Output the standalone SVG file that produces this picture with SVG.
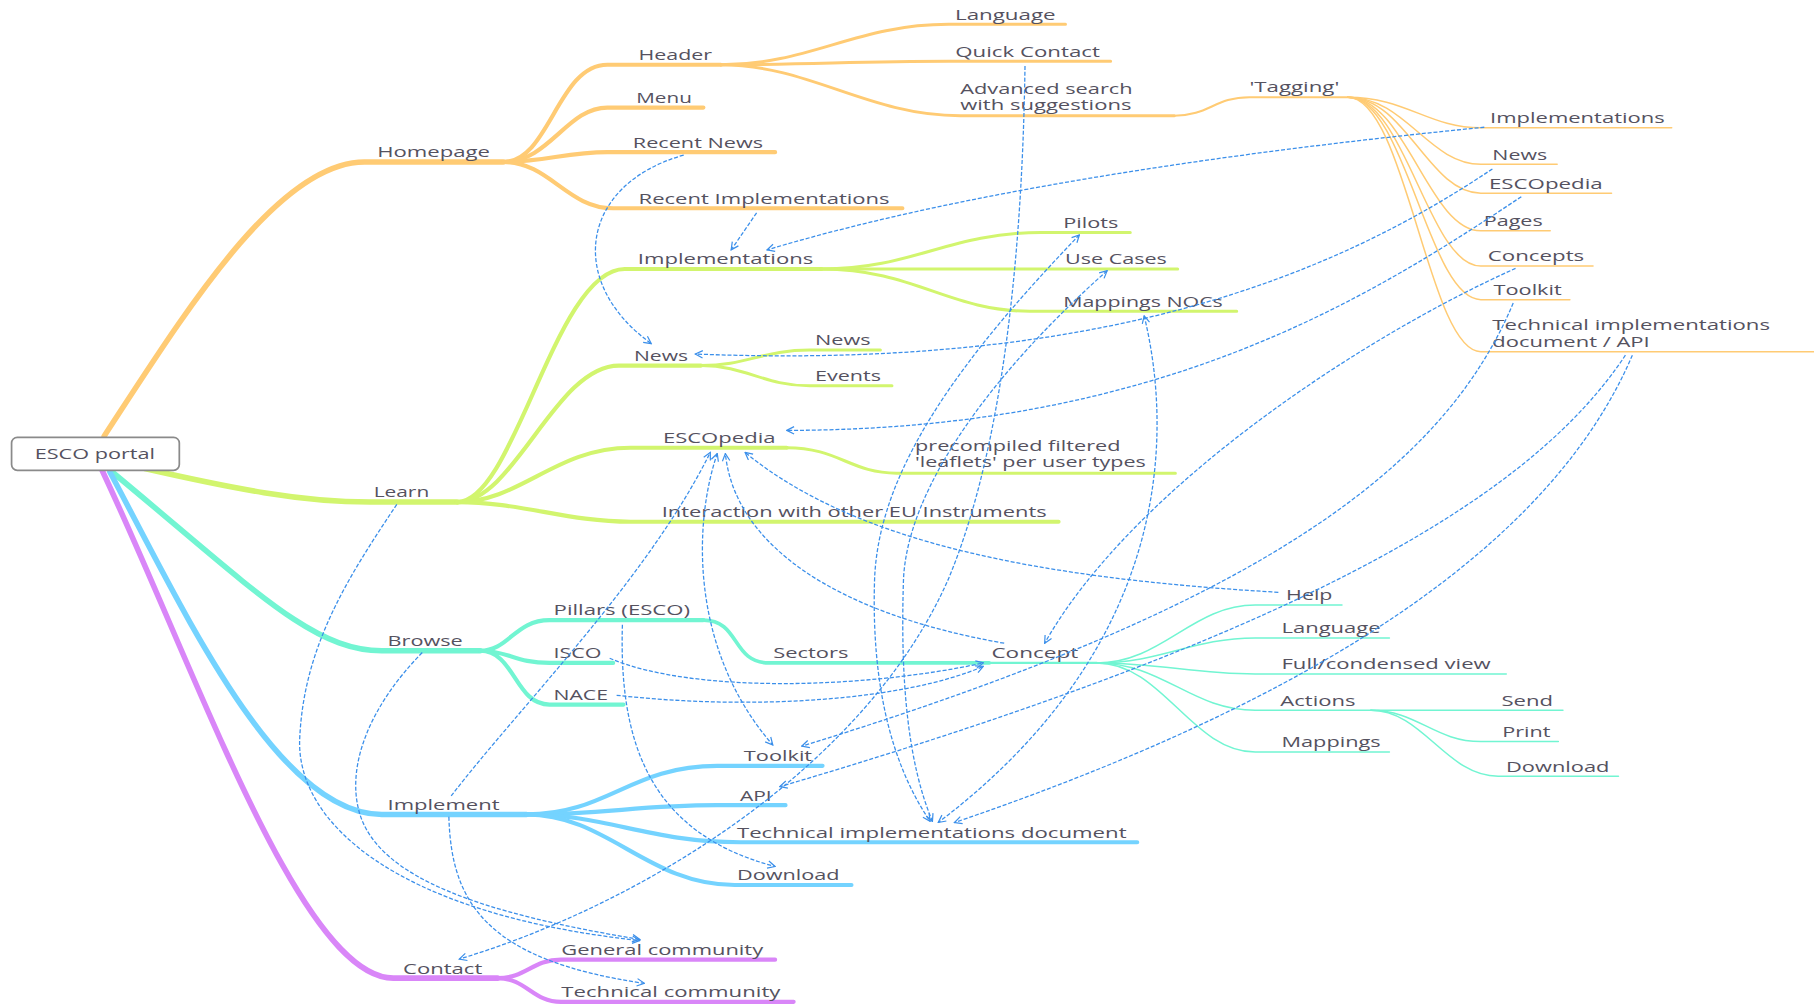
<svg xmlns="http://www.w3.org/2000/svg" width="1814" height="1004" viewBox="0 0 1814 1004">
<defs>
<style>
.t{font-family:"Open Sans","DejaVu Sans",sans-serif;font-size:13px;fill:#55525f}
.b{fill:none;stroke-linecap:round}
.or{stroke:#FFCB74}.yg{stroke:#D2F56E}.tl{stroke:#72F5D2}.bl{stroke:#74D3FF}.pu{stroke:#D986F8}
.w1{stroke-width:4.8}.w2{stroke-width:3.6}.w3{stroke-width:2.6}.w4{stroke-width:1.3}
.dc{fill:none;stroke:#3B8FEA;stroke-width:1.1;stroke-dasharray:3.5 1.6;marker-end:url(#ah)}
.bi{marker-start:url(#ah)}
</style>
<marker id="ah" viewBox="0 0 10 10" refX="9" refY="5" markerWidth="8" markerHeight="8" markerUnits="userSpaceOnUse" orient="auto-start-reverse">
<path d="M1,1 L9,5 L1,9" fill="none" stroke="#3B8FEA" stroke-width="1.3" stroke-dasharray="none"/>
</marker>
</defs>
<rect width="1814" height="1004" fill="#fff"/>
<g transform="scale(1.156888)">
<g id="homepage">
<path class="b or w1" d="M90,377 C 160,270 240,140 315,140 L 435,140"/>
<text class="t" x="326" y="136" textLength="97.5" lengthAdjust="spacingAndGlyphs">Homepage</text>
</g>
<g id="header">
<path class="b or w2" d="M435,140 C 475,140 482,56 525,56 L 623,56"/>
<text class="t" x="552" y="52" textLength="63.5" lengthAdjust="spacingAndGlyphs">Header</text>
</g>
<g id="menu">
<path class="b or w2" d="M435,140 C 475,140 490,93 525,93 L 608,93"/>
<text class="t" x="550" y="89" textLength="48" lengthAdjust="spacingAndGlyphs">Menu</text>
</g>
<g id="recent-news">
<path class="b or w2" d="M435,140 C 470,140 490,131.5 525,131.5 L 670,131.5"/>
<text class="t" x="547" y="127.5" textLength="112.6" lengthAdjust="spacingAndGlyphs">Recent News</text>
</g>
<g id="recent-implementations">
<path class="b or w2" d="M435,140 C 475,140 490,180 530,180 L 780,180"/>
<text class="t" x="552" y="176" textLength="217" lengthAdjust="spacingAndGlyphs">Recent Implementations</text>
</g>
<g id="header-language">
<path class="b or w3" d="M623,56 C 700,56 740,21 820,21 L 921,21"/>
<text class="t" x="825.5" y="17" textLength="87" lengthAdjust="spacingAndGlyphs">Language</text>
</g>
<g id="quick-contact">
<path class="b or w3" d="M623,56 C 700,56 740,53 820,53 L 960,53"/>
<text class="t" x="825.7" y="49" textLength="125" lengthAdjust="spacingAndGlyphs">Quick Contact</text>
</g>
<g id="advanced-search">
<path class="b or w3" d="M623,56 C 700,56 750,100 830,100 L 1015,100"/>
<text class="t" x="830" y="81" textLength="149" lengthAdjust="spacingAndGlyphs">Advanced search</text>
<text class="t" x="830" y="95.5" textLength="148" lengthAdjust="spacingAndGlyphs">with suggestions</text>
</g>
<g id="tagging">
<path class="b or" stroke-width="1.8" d="M1015,100 C 1045,100 1050,84 1080,84 L 1165,84"/>
<text class="t" x="1080" y="79.5" textLength="77.7" lengthAdjust="spacingAndGlyphs">'Tagging'</text>
</g>
<g id="tag-implementations">
<path class="b or w4" d="M1165,84 C 1215,84 1235,110.5 1280,110.5 L 1445,110.5"/>
<text class="t" x="1288" y="106.5" textLength="151" lengthAdjust="spacingAndGlyphs">Implementations</text>
</g>
<g id="tag-news">
<path class="b or w4" d="M1165,84 C 1215,84 1235,142 1280,142 L 1346,142"/>
<text class="t" x="1290" y="138" textLength="47.3" lengthAdjust="spacingAndGlyphs">News</text>
</g>
<g id="tag-escopedia">
<path class="b or w4" d="M1165,84 C 1215,84 1235,167 1280,167 L 1393,167"/>
<text class="t" x="1287" y="163" textLength="98.4" lengthAdjust="spacingAndGlyphs">ESCOpedia</text>
</g>
<g id="tag-pages">
<path class="b or w4" d="M1165,84 C 1215,84 1235,199.5 1280,199.5 L 1340,199.5"/>
<text class="t" x="1282.5" y="195.5" textLength="51" lengthAdjust="spacingAndGlyphs">Pages</text>
</g>
<g id="tag-concepts">
<path class="b or w4" d="M1165,84 C 1215,84 1235,230 1280,230 L 1377,230"/>
<text class="t" x="1286" y="226" textLength="83.4" lengthAdjust="spacingAndGlyphs">Concepts</text>
</g>
<g id="tag-toolkit">
<path class="b or w4" d="M1165,84 C 1215,84 1235,259 1280,259 L 1357,259"/>
<text class="t" x="1291" y="255" textLength="59" lengthAdjust="spacingAndGlyphs">Toolkit</text>
</g>
<g id="tag-tech-api">
<path class="b or w4" d="M1165,84 C 1215,84 1235,304 1280,304 L 1568,304"/>
<text class="t" x="1290" y="285.5" textLength="240" lengthAdjust="spacingAndGlyphs">Technical implementations</text>
<text class="t" x="1290" y="300" textLength="136" lengthAdjust="spacingAndGlyphs">document / API</text>
</g>
<g id="learn">
<path class="b yg w1" d="M125,405 C 200,422 260,434 320,434 L 395,434"/>
<text class="t" x="323" y="430" textLength="48" lengthAdjust="spacingAndGlyphs">Learn</text>
</g>
<g id="learn-implementations">
<path class="b yg w2" d="M395,434 C 445,434 480,232.5 540,232.5 L 710,232.5"/>
<text class="t" x="551.3" y="228.5" textLength="151.7" lengthAdjust="spacingAndGlyphs">Implementations</text>
</g>
<g id="learn-news">
<path class="b yg w2" d="M395,434 C 445,434 480,316 535,316 L 606,316"/>
<text class="t" x="548" y="312" textLength="46.7" lengthAdjust="spacingAndGlyphs">News</text>
</g>
<g id="learn-escopedia">
<path class="b yg w2" d="M395,434 C 450,434 480,387 545,387 L 680,387"/>
<text class="t" x="573" y="383" textLength="97.3" lengthAdjust="spacingAndGlyphs">ESCOpedia</text>
</g>
<g id="interaction">
<path class="b yg w2" d="M395,434 C 450,434 490,451 545,451 L 915,451"/>
<text class="t" x="572" y="447" textLength="332.7" lengthAdjust="spacingAndGlyphs">Interaction with other EU Instruments</text>
</g>
<g id="pilots">
<path class="b yg w3" d="M710,232.5 C 790,232.5 820,201 900,201 L 977,201"/>
<text class="t" x="919" y="197" textLength="47.6" lengthAdjust="spacingAndGlyphs">Pilots</text>
</g>
<g id="use-cases">
<path class="b yg w3" d="M710,232.5 L 1018,232.5"/>
<text class="t" x="920.6" y="228.5" textLength="88" lengthAdjust="spacingAndGlyphs">Use Cases</text>
</g>
<g id="mappings-nocs">
<path class="b yg w3" d="M710,232.5 C 790,232.5 820,269 890,269 L 1069,269"/>
<text class="t" x="919" y="265" textLength="138" lengthAdjust="spacingAndGlyphs">Mappings NOCs</text>
</g>
<g id="news-news">
<path class="b yg w3" d="M606,316 C 645,316 660,302.5 700,302.5 L 761,302.5"/>
<text class="t" x="704.5" y="298.5" textLength="48" lengthAdjust="spacingAndGlyphs">News</text>
</g>
<g id="events">
<path class="b yg w3" d="M606,316 C 645,316 660,333.5 700,333.5 L 771,333.5"/>
<text class="t" x="704.5" y="329.5" textLength="57" lengthAdjust="spacingAndGlyphs">Events</text>
</g>
<g id="leaflets">
<path class="b yg w3" d="M680,387 C 725,387 735,409 775,409 L 1016,409"/>
<text class="t" x="791" y="389.5" textLength="177.5" lengthAdjust="spacingAndGlyphs">precompiled filtered</text>
<text class="t" x="791" y="404" textLength="199.5" lengthAdjust="spacingAndGlyphs">'leaflets' per user types</text>
</g>
<g id="browse">
<path class="b tl w1" d="M97,408 C 220,510 270,562.5 330,562.5 L 415,562.5"/>
<text class="t" x="335" y="558.5" textLength="65" lengthAdjust="spacingAndGlyphs">Browse</text>
</g>
<g id="pillars">
<path class="b tl w2" d="M415,562.5 C 440,562.5 445,536 475,536 L 608,536"/>
<text class="t" x="478.5" y="532" textLength="118" lengthAdjust="spacingAndGlyphs">Pillars (ESCO)</text>
</g>
<g id="isco">
<path class="b tl w2" d="M415,562.5 C 440,562.5 445,573 475,573 L 530,573"/>
<text class="t" x="478.5" y="569" textLength="41.5" lengthAdjust="spacingAndGlyphs">ISCO</text>
</g>
<g id="nace">
<path class="b tl w2" d="M415,562.5 C 445,562.5 445,609 475,609 L 539,609"/>
<text class="t" x="478.5" y="605" textLength="47" lengthAdjust="spacingAndGlyphs">NACE</text>
</g>
<g id="sectors">
<path class="b tl" stroke-width="3.2" d="M608,536 C 640,536 632,573 665,573 L 855,573"/>
<text class="t" x="668.4" y="569" textLength="65" lengthAdjust="spacingAndGlyphs">Sectors</text>
</g>
<g id="concept">
<path class="b tl" stroke-width="2" d="M855,573 L 948,573"/>
<text class="t" x="857" y="569" textLength="75" lengthAdjust="spacingAndGlyphs">Concept</text>
</g>
<g id="help">
<path class="b tl w4" d="M948,573 C 1005,573 1030,523 1085,523 L 1160,523"/>
<text class="t" x="1111.7" y="519" textLength="40" lengthAdjust="spacingAndGlyphs">Help</text>
</g>
<g id="concept-language">
<path class="b tl w4" d="M948,573 C 1005,573 1030,551.5 1085,551.5 L 1201,551.5"/>
<text class="t" x="1107.7" y="547.5" textLength="85.7" lengthAdjust="spacingAndGlyphs">Language</text>
</g>
<g id="full-view">
<path class="b tl w4" d="M948,573 C 1005,573 1030,582.5 1085,582.5 L 1302,582.5"/>
<text class="t" x="1107.7" y="578.5" textLength="180.8" lengthAdjust="spacingAndGlyphs">Full/condensed view</text>
</g>
<g id="actions">
<path class="b tl w4" d="M948,573 C 1005,573 1030,614 1085,614 L 1185,614"/>
<text class="t" x="1106.7" y="610" textLength="65" lengthAdjust="spacingAndGlyphs">Actions</text>
</g>
<g id="send">
<path class="b tl w4" d="M1185,614 L 1351,614"/>
<text class="t" x="1297.8" y="610" textLength="44.6" lengthAdjust="spacingAndGlyphs">Send</text>
</g>
<g id="print">
<path class="b tl w4" d="M1185,614 C 1225,614 1240,641 1280,641 L 1347,641"/>
<text class="t" x="1298.5" y="637" textLength="41.7" lengthAdjust="spacingAndGlyphs">Print</text>
</g>
<g id="concept-download">
<path class="b tl w4" d="M1185,614 C 1230,614 1250,671 1295,671 L 1399,671"/>
<text class="t" x="1301.8" y="667" textLength="89.4" lengthAdjust="spacingAndGlyphs">Download</text>
</g>
<g id="concept-mappings">
<path class="b tl w4" d="M948,573 C 1005,573 1030,650 1085,650 L 1201,650"/>
<text class="t" x="1107.7" y="646" textLength="85.7" lengthAdjust="spacingAndGlyphs">Mappings</text>
</g>
<g id="implement">
<path class="b bl w1" d="M95,408 C 160,530 240,704 330,704 L 455,704"/>
<text class="t" x="335" y="700" textLength="96.8" lengthAdjust="spacingAndGlyphs">Implement</text>
</g>
<g id="impl-toolkit">
<path class="b bl w2" d="M455,704 C 525,704 545,662 620,662 L 711,662"/>
<text class="t" x="643" y="658" textLength="59" lengthAdjust="spacingAndGlyphs">Toolkit</text>
</g>
<g id="impl-api">
<path class="b bl w2" d="M455,704 C 525,704 550,696 620,696 L 679,696"/>
<text class="t" x="639.6" y="692" textLength="27.4" lengthAdjust="spacingAndGlyphs">API</text>
</g>
<g id="impl-tech-doc">
<path class="b bl w2" d="M455,704 C 525,704 560,728 640,728 L 983,728"/>
<text class="t" x="637" y="724" textLength="336.8" lengthAdjust="spacingAndGlyphs">Technical implementations document</text>
</g>
<g id="impl-download">
<path class="b bl w2" d="M455,704 C 525,704 560,765 635,765 L 736,765"/>
<text class="t" x="637" y="761" textLength="88.7" lengthAdjust="spacingAndGlyphs">Download</text>
</g>
<g id="contact">
<path class="b pu w1" d="M88,406 C 170,580 260,845.5 340,845.5 L 430,845.5"/>
<text class="t" x="348.4" y="841.5" textLength="68.5" lengthAdjust="spacingAndGlyphs">Contact</text>
</g>
<g id="general-community">
<path class="b pu w2" d="M430,845.5 C 455,845.5 460,829.5 485,829.5 L 670,829.5"/>
<text class="t" x="485.2" y="825.5" textLength="174.5" lengthAdjust="spacingAndGlyphs">General community</text>
</g>
<g id="technical-community">
<path class="b pu w2" d="M430,845.5 C 455,845.5 460,866 485,866 L 686,866"/>
<text class="t" x="485.2" y="862" textLength="189.4" lengthAdjust="spacingAndGlyphs">Technical community</text>
</g>
<g id="esco-portal">
<rect x="10" y="378" width="145" height="28.5" rx="5" fill="#fff" stroke="#8a8a8a" stroke-width="1.5"/>
<text class="t" x="30" y="397" textLength="104" lengthAdjust="spacingAndGlyphs">ESCO portal</text>
</g>
<g id="connectors">
<path class="dc" d="M591,134 C 500,160 490,245 563,297"/>
<path class="dc" d="M654,184 L 632,216"/>
<path class="dc" d="M1283,110 C 1100,128 850,160 663,216"/>
<path class="dc" d="M886,57 C 884,200 870,380 820,500 C 750,660 560,780 397,829"/>
<path class="dc" d="M1290,146 C 1150,240 950,320 601,306"/>
<path class="dc" d="M1315,170 C 1180,260 1000,372 680,372"/>
<path class="dc" d="M1310,232 C 1180,290 980,420 903,556"/>
<path class="dc" d="M1308,262 C 1250,400 1100,520 693,645"/>
<path class="dc" d="M1405,307 C 1330,420 1150,540 674,680"/>
<path class="dc" d="M1411,307 C 1350,450 1180,590 825,711"/>
<path class="dc bi" d="M989,273 C 1015,380 1010,560 811,711"/>
<path class="dc bi" d="M933,203 C 840,300 760,400 756,500 C 753,590 770,660 804,710"/>
<path class="dc bi" d="M957,234 C 860,320 785,420 781,500 C 778,590 785,660 806,710"/>
<path class="dc" d="M390,688 C 450,610 560,500 614,391"/>
<path class="dc bi" d="M620,392 C 600,450 595,560 668,644"/>
<path class="dc" d="M868,556 C 720,530 635,470 627,392"/>
<path class="dc" d="M1105,512 C 900,500 740,470 644,391"/>
<path class="dc" d="M527,569 C 600,600 750,595 850,573"/>
<path class="dc" d="M533,601 C 650,614 780,606 850,576"/>
<path class="dc" d="M538,540 C 535,640 560,720 670,749"/>
<path class="dc" d="M343,436 C 300,500 262,560 259,640 C 257,710 340,790 553,813"/>
<path class="dc" d="M365,564 C 320,610 300,660 310,700 C 325,760 420,790 553,812"/>
<path class="dc" d="M388,706 C 390,780 420,830 557,850"/>
</g>
</g>
</svg>
